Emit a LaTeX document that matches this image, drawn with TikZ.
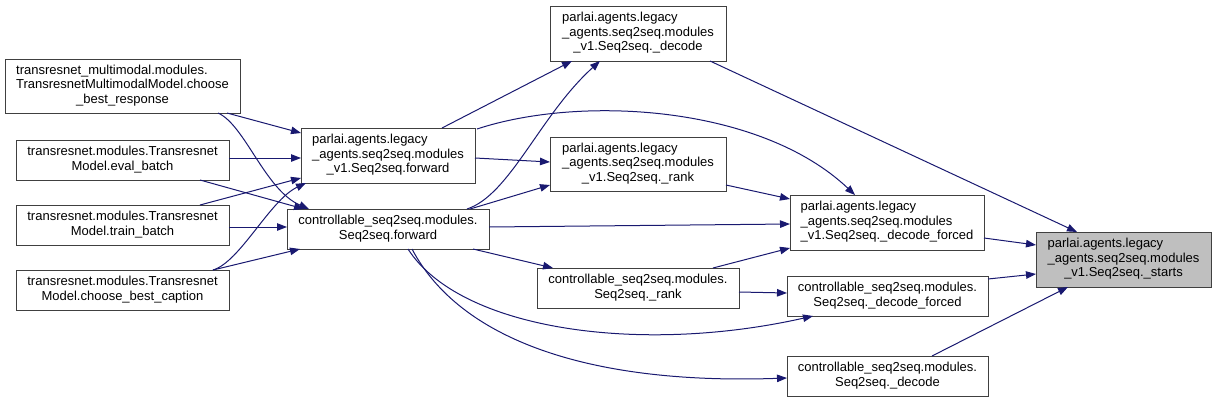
\documentclass[tikz,border=0pt]{standalone}
\usepackage{fontspec}
\setmainfont{Liberation Sans}
\usetikzlibrary{arrows.meta}
\definecolor{edgeblue}{HTML}{191970}
\definecolor{boxline}{HTML}{404040}
\definecolor{hilite}{HTML}{BFBFBF}
\newcommand\twol[2]{\begin{tabular}{@{}l@{}}#1\\\multicolumn{1}{@{}c@{}}{#2}\end{tabular}}
\newcommand\threel[3]{\begin{tabular}{@{}l@{}}#1\\#2\\\multicolumn{1}{@{}c@{}}{#3}\end{tabular}}
\begin{document}
\begin{tikzpicture}[x=1pt,y=-1pt,
  box/.style={draw=boxline, line width=1pt, fill=white, inner sep=0pt, outer sep=0pt,
    font=\fontsize{13}{14.5}\selectfont, anchor=center},
  edge/.style={draw=edgeblue, line width=1pt, -{Triangle[length=10pt,width=7.5pt]}}]
\useasboundingbox (0,0) rectangle (1216,402);
% nodes
\node[box, minimum width=235pt, minimum height=54pt] (bestresp) at (122.5,86)
  {\threel{transresnet\_multimodal.modules.}{TransresnetMultimodalModel.choose}{\_best\_response}};
\node[box, minimum width=213pt, minimum height=40pt] (evalb) at (122.5,160)
  {\twol{transresnet.modules.Transresnet}{Model.eval\_batch}};
\node[box, minimum width=213pt, minimum height=40pt] (trainb) at (122.5,225)
  {\twol{transresnet.modules.Transresnet}{Model.train\_batch}};
\node[box, minimum width=213pt, minimum height=40pt] (caption) at (122.5,290)
  {\twol{transresnet.modules.Transresnet}{Model.choose\_best\_caption}};
\node[box, minimum width=174pt, minimum height=55pt] (pfwd) at (388,155.5)
  {\threel{parlai.agents.legacy}{\_agents.seq2seq.modules}{\_v1.Seq2seq.forward}};
\node[box, minimum width=202pt, minimum height=40pt] (cfwd) at (388,229)
  {\twol{controllable\_seq2seq.modules.}{Seq2seq.forward}};
\node[box, minimum width=176pt, minimum height=55pt] (pdecode) at (638,33.5)
  {\threel{parlai.agents.legacy}{\_agents.seq2seq.modules}{\_v1.Seq2seq.\_decode}};
\node[box, minimum width=176pt, minimum height=54pt] (prank) at (638,164)
  {\threel{parlai.agents.legacy}{\_agents.seq2seq.modules}{\_v1.Seq2seq.\_rank}};
\node[box, minimum width=202pt, minimum height=40pt] (crank) at (638,288)
  {\twol{controllable\_seq2seq.modules.}{Seq2seq.\_rank}};
\node[box, minimum width=194pt, minimum height=55pt] (pdforced) at (887,222.5)
  {\threel{parlai.agents.legacy}{\_agents.seq2seq.modules}{\_v1.Seq2seq.\_decode\_forced}};
\node[box, minimum width=201pt, minimum height=40pt] (cdforced) at (887.5,296)
  {\twol{controllable\_seq2seq.modules.}{Seq2seq.\_decode\_forced}};
\node[box, minimum width=201pt, minimum height=40pt] (cdecode) at (887.5,376)
  {\twol{controllable\_seq2seq.modules.}{Seq2seq.\_decode}};
\node[box, fill=hilite, minimum width=175pt, minimum height=55pt] (starts) at (1123.5,259.5)
  {\threel{parlai.agents.legacy}{\_agents.seq2seq.modules}{\_v1.Seq2seq.\_starts}};
% edges
\draw[edge] ([shift={(222,54)}]bestresp.north west) -- ([shift={(0,5)}]pfwd.north west);
\draw[edge] ([shift={(213,54)}]bestresp.north west) .. controls (245,125) and (265,190) .. ([shift={(22,0)}]cfwd.north west);
\draw[edge] ([shift={(213,18)}]evalb.north west) -- ([shift={(0,30)}]pfwd.north west);
\draw[edge] ([shift={(184,40)}]evalb.north west) -- ([shift={(17,0)}]cfwd.north west);
\draw[edge] ([shift={(184,0)}]trainb.north west) -- ([shift={(0,50)}]pfwd.north west);
\draw[edge] ([shift={(213,22)}]trainb.north west) -- ([shift={(0,18)}]cfwd.north west);
\draw[edge] ([shift={(197,0)}]caption.north west) .. controls (240,262) and (270,200) .. ([shift={(5,55)}]pfwd.north west);
\draw[edge] ([shift={(197,0)}]caption.north west) -- ([shift={(13,40)}]cfwd.north west);
\draw[edge] ([shift={(141,0)}]pfwd.north west) -- ([shift={(22,55)}]pdecode.north west);
\draw[edge] ([shift={(174,30)}]pfwd.north west) -- ([shift={(0,25)}]prank.north west);
\draw[edge] ([shift={(176,1)}]pfwd.north west) .. controls (580,95) and (760,105) .. ([shift={(65,0)}]pdforced.north west);
\draw[edge] ([shift={(180,0)}]cfwd.north west) .. controls (510,195) and (540,115) .. ([shift={(50,55)}]pdecode.north west);
\draw[edge] ([shift={(183,0)}]cfwd.north west) -- ([shift={(0,48)}]prank.north west);
\draw[edge] ([shift={(202,18)}]cfwd.north west) -- ([shift={(0,29)}]pdforced.north west);
\draw[edge] ([shift={(186,40)}]cfwd.north west) -- ([shift={(16,0)}]crank.north west);
\draw[edge] ([shift={(121,40)}]cfwd.north west) .. controls (460,330) and (640,355) .. ([shift={(26,40)}]cdforced.north west);
\draw[edge] ([shift={(125,40)}]cfwd.north west) .. controls (460,340) and (590,385) .. ([shift={(0,22)}]cdecode.north west);
\draw[edge] ([shift={(176,48)}]prank.north west) -- ([shift={(0,4)}]pdforced.north west);
\draw[edge] ([shift={(176,0)}]crank.north west) -- ([shift={(0,53)}]pdforced.north west);
\draw[edge] ([shift={(202,24)}]crank.north west) -- ([shift={(0,17)}]cdforced.north west);
\draw[edge] ([shift={(160,55)}]pdecode.north west) -- ([shift={(41,0)}]starts.north west);
\draw[edge] ([shift={(194,43)}]pdforced.north west) -- ([shift={(0,13)}]starts.north west);
\draw[edge] ([shift={(201,3)}]cdforced.north west) -- ([shift={(0,42)}]starts.north west);
\draw[edge] ([shift={(145,0)}]cdecode.north west) -- ([shift={(32,55)}]starts.north west);
\end{tikzpicture}
\end{document}
